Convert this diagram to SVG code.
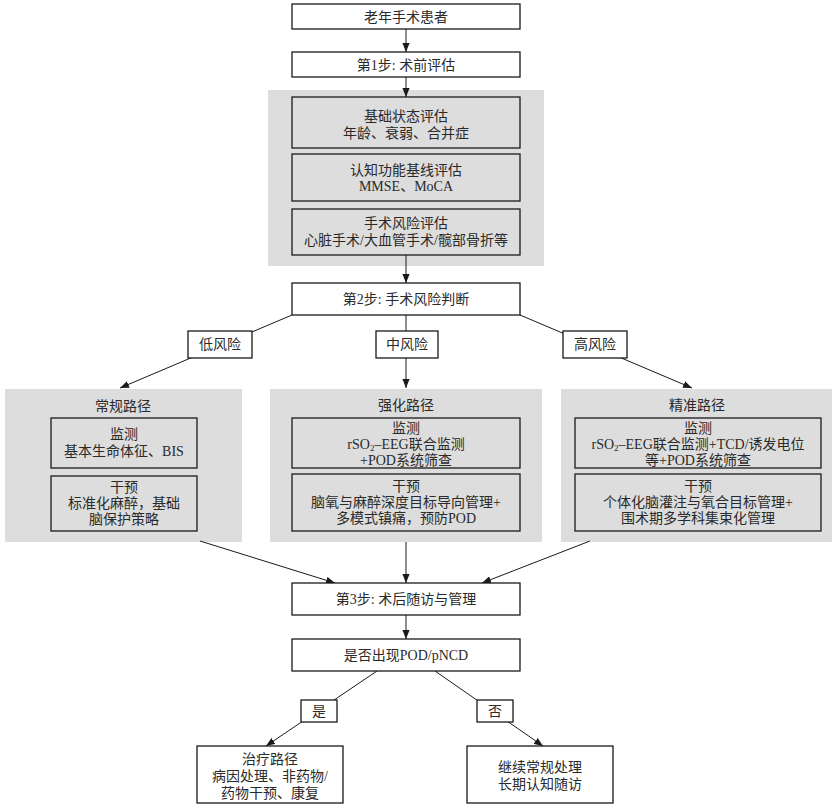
<svg xmlns="http://www.w3.org/2000/svg" width="839" height="807" viewBox="0 0 839 807">
<defs>
<style>
.box{fill:#fff;stroke:#1a1a1a;stroke-width:1.3}
.ibox{fill:none;stroke:#1a1a1a;stroke-width:1.3}
.panel{fill:#dddddd;stroke:none}
.ln{fill:none;stroke:#1a1a1a;stroke-width:1}
.arr{marker-end:url(#ah)}
text{font-family:"Liberation Serif","Noto Sans CJK SC",serif;font-size:14px;fill:#2a2a2a;text-anchor:middle;dominant-baseline:central}
.sub{font-size:9px}
</style>
<marker id="ah" viewBox="0 0 10 8" refX="10" refY="4" markerWidth="9" markerHeight="7.2" markerUnits="userSpaceOnUse" orient="auto">
<path d="M0,0 L10,4 L0,8 z" fill="#1a1a1a"/>
</marker>
</defs>
<rect width="839" height="807" fill="#fff"/>

<g id="panels">
<rect id="panel-pre" class="panel" x="268" y="90" width="276" height="176"/>
<rect id="panel-low" class="panel" x="5" y="389" width="237" height="153"/>
<rect id="panel-mid" class="panel" x="270" y="389" width="272" height="153"/>
<rect id="panel-high" class="panel" x="561" y="389" width="271" height="153"/>
</g>

<g id="connectors">
<line class="ln arr" x1="406" y1="29" x2="406" y2="52"/>
<line class="ln arr" x1="406" y1="77" x2="406" y2="97"/>
<line class="ln arr" x1="406" y1="255" x2="406" y2="283"/>
<line class="ln arr" x1="292" y1="315" x2="120" y2="388"/>
<line class="ln arr" x1="406" y1="315" x2="406" y2="388"/>
<line class="ln arr" x1="520" y1="315" x2="692" y2="388"/>
<line class="ln arr" x1="200" y1="541" x2="335" y2="583"/>
<line class="ln arr" x1="406" y1="542" x2="406" y2="583"/>
<line class="ln arr" x1="590" y1="541" x2="482" y2="583"/>
<line class="ln arr" x1="406" y1="615" x2="406" y2="639"/>
<line class="ln arr" x1="377" y1="671" x2="266" y2="746"/>
<line class="ln arr" x1="435" y1="671" x2="543" y2="746"/>
</g>

<g id="n-patient">
<rect class="box" x="292" y="4" width="228" height="25"/>
<text x="406" y="17">老年手术患者</text>
</g>
<g id="n-step1">
<rect class="box" x="292" y="52" width="228" height="25"/>
<text x="406" y="65">第1步: 术前评估</text>
</g>
<g id="n-basic">
<rect class="ibox" x="292" y="97" width="228" height="51"/>
<text x="406" y="116">基础状态评估</text>
<text x="406" y="133">年龄、衰弱、合并症</text>
</g>
<g id="n-cog">
<rect class="ibox" x="292" y="154" width="228" height="47"/>
<text x="406" y="170">认知功能基线评估</text>
<text x="406" y="186">MMSE、MoCA</text>
</g>
<g id="n-surgrisk">
<rect class="ibox" x="292" y="209" width="228" height="46"/>
<text x="406" y="223">手术风险评估</text>
<text x="406" y="240">心脏手术/大血管手术/髋部骨折等</text>
</g>
<g id="n-step2">
<rect class="box" x="292" y="283" width="228" height="32"/>
<text x="406" y="299">第2步: 手术风险判断</text>
</g>
<g id="n-low">
<rect class="box" x="188" y="331" width="64" height="27"/>
<text x="220" y="344">低风险</text>
</g>
<g id="n-mid">
<rect class="box" x="376" y="331" width="62" height="27"/>
<text x="407" y="344">中风险</text>
</g>
<g id="n-high">
<rect class="box" x="563" y="331" width="64" height="27"/>
<text x="595" y="344">高风险</text>
</g>

<g id="n-routine">
<text x="123" y="406">常规路径</text>
<rect class="ibox" x="51" y="418" width="146" height="50"/>
<text x="124" y="434">监测</text>
<text x="124" y="451">基本生命体征、BIS</text>
<rect class="ibox" x="51" y="476" width="146" height="55"/>
<text x="124" y="487">干预</text>
<text x="124" y="503">标准化麻醉，基础</text>
<text x="124" y="519">脑保护策略</text>
</g>

<g id="n-enhanced">
<text x="406" y="405">强化路径</text>
<rect class="ibox" x="292" y="418" width="228" height="50"/>
<text x="406" y="428">监测</text>
<text x="406" y="444">rSO<tspan class="sub" dy="4">2</tspan><tspan dy="-4">–EEG联合监测</tspan></text>
<text x="406" y="460">+POD系统筛查</text>
<rect class="ibox" x="292" y="474" width="228" height="57"/>
<text x="406" y="486">干预</text>
<text x="406" y="502">脑氧与麻醉深度目标导向管理+</text>
<text x="406" y="518">多模式镇痛，预防POD</text>
</g>

<g id="n-precise">
<text x="697" y="405">精准路径</text>
<rect class="ibox" x="575" y="418" width="246" height="50"/>
<text x="698" y="428">监测</text>
<text x="698" y="444">rSO<tspan class="sub" dy="4">2</tspan><tspan dy="-4">–EEG联合监测+TCD/诱发电位</tspan></text>
<text x="698" y="460">等+POD系统筛查</text>
<rect class="ibox" x="575" y="474" width="246" height="57"/>
<text x="698" y="486">干预</text>
<text x="698" y="502">个体化脑灌注与氧合目标管理+</text>
<text x="698" y="518">围术期多学科集束化管理</text>
</g>

<g id="n-step3">
<rect class="box" x="292" y="583" width="228" height="32"/>
<text x="406" y="599">第3步: 术后随访与管理</text>
</g>
<g id="n-pod">
<rect class="box" x="292" y="639" width="228" height="32"/>
<text x="406" y="655">是否出现POD/pNCD</text>
</g>
<g id="n-yes">
<rect class="box" x="301" y="700" width="36" height="22"/>
<text x="319" y="711">是</text>
</g>
<g id="n-no">
<rect class="box" x="477" y="700" width="36" height="22"/>
<text x="495" y="711">否</text>
</g>
<g id="n-treat">
<rect class="box" x="197" y="746" width="146" height="57"/>
<text x="270" y="759">治疗路径</text>
<text x="270" y="776">病因处理、非药物/</text>
<text x="270" y="793">药物干预、康复</text>
</g>
<g id="n-continue">
<rect class="box" x="467" y="746" width="146" height="57"/>
<text x="540" y="767">继续常规处理</text>
<text x="540" y="784">长期认知随访</text>
</g>
</svg>
